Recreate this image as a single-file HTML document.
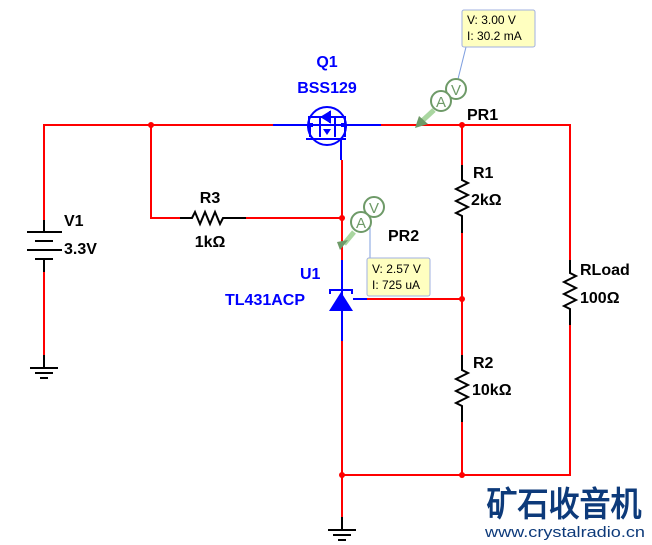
<!DOCTYPE html>
<html><head><meta charset="utf-8"><style>
html,body{margin:0;padding:0;background:#fff;}
svg{display:block;}
text{font-family:"Liberation Sans",Arial,sans-serif;}
.lb{font-weight:bold;font-size:16px;fill:#000;}
.bl{font-weight:bold;font-size:16px;fill:#0000ff;}
</style></head><body>
<svg width="652" height="545" viewBox="0 0 652 545" xmlns="http://www.w3.org/2000/svg">
<g fill="none" stroke-width="2">
<path d="M44 220 V125 H273" stroke="#f00"/>
<path d="M273 125 H381" stroke="#00f"/>
<path d="M381 125 H570 V260" stroke="#f00"/>
<path d="M44 220 V232 M27 232 H62 M35 241 H53 M27 250 H62 M35 259 H53 M44 259 V272" stroke="#000"/>
<path d="M44 272 V355" stroke="#f00"/>
<path d="M44 355 V368 M30 368 H58 M35 373 H53 M40 378 H48" stroke="#000"/>
<path d="M151 125 V218 H180" stroke="#f00"/>
<path d="M180 218 H192 l3 -6 l5 12 l5 -12 l5 12 l5 -12 l5 12 l3 -6 H246" stroke="#000"/>
<path d="M246 218 H342" stroke="#f00"/>
<path d="M341 143 V160" stroke="#00f"/>
<path d="M342 160 V260" stroke="#f00"/>
<path d="M342 260 V341" stroke="#00f"/>
<path d="M342 341 V517" stroke="#f00"/>
<path d="M342 517 V530 M328 530 H356 M333 535 H351 M338 540 H346" stroke="#000"/>
<path d="M353 299 H367" stroke="#00f"/>
<path d="M367 299 H462" stroke="#f00"/>
<path d="M462 125 V165" stroke="#f00"/>
<path d="M462 165 V180 l6 3 l-12 6 l12 6 l-12 6 l12 6 l-12 6 l6 3 V233" stroke="#000"/>
<path d="M462 233 V355" stroke="#f00"/>
<path d="M462 355 V370 l6 3 l-12 6 l12 6 l-12 6 l12 6 l-12 6 l6 3 V422" stroke="#000"/>
<path d="M462 422 V475" stroke="#f00"/>
<path d="M570 260 V273 l6 3 l-12 6 l12 6 l-12 6 l12 6 l-12 6 l6 3 V325" stroke="#000"/>
<path d="M570 325 V475 H342" stroke="#f00"/>
<g stroke="#00f">
<circle cx="327" cy="126" r="19" stroke-width="2"/>
<path d="M309 125 V117 H345 V125 M310 125 V137 M320 117 V137 M335 117 V137 M345 125 V137 M306 139 H346 M341 139 V143"/>
</g>
</g>
<g fill="#00f">
<path d="M322 117 l8 -5 v10 z M330 111 v12" stroke="#00f" stroke-width="2"/>
<path d="M323 129 h8 l-4 6 z"/>
<rect x="309" y="123" width="4" height="4"/><rect x="341" y="123" width="4" height="4"/>
<path d="M341 292 L353 311 L329 311 Z"/>
<path d="M330 294 V290 H352 V294" fill="none" stroke="#00f" stroke-width="2"/>
</g>
<g fill="#f00">
<circle cx="151" cy="125" r="3"/><circle cx="462" cy="125" r="3"/>
<circle cx="342" cy="218" r="3"/><circle cx="462" cy="299" r="3"/>
<circle cx="342" cy="475" r="3"/><circle cx="462" cy="475" r="3"/>
</g>
<line x1="466" y1="47" x2="458" y2="79" stroke="#7f9fdf" stroke-width="1"/>
<line x1="434" y1="110" x2="421" y2="122" stroke="#a9d6a0" stroke-width="5"/>
<path d="M415 128 L428 124 L419 116 Z" fill="#6e9a68"/>
<g fill="#fff" stroke="#6e9a68" stroke-width="2">
<circle cx="456" cy="89" r="10"/><circle cx="441" cy="101" r="10"/>
</g>
<text x="456" y="95" font-size="15" fill="#6e9a68" text-anchor="middle">V</text>
<text x="441" y="107" font-size="15" fill="#6e9a68" text-anchor="middle">A</text>
<rect x="462" y="10" width="73" height="37" rx="2" fill="#ffffc0" stroke="#a0b0e0"/>
<text x="467" y="24" font-size="12" fill="#000">V: 3.00 V</text>
<text x="467" y="40" font-size="12" fill="#000">I: 30.2 mA</text>
<line x1="370" y1="258" x2="370" y2="228" stroke="#7f9fdf" stroke-width="1"/>
<line x1="354" y1="232" x2="344" y2="244" stroke="#a9d6a0" stroke-width="5"/>
<path d="M340 250 L348 240 L337 242 Z" fill="#6e9a68"/>
<g fill="#fff" stroke="#6e9a68" stroke-width="2">
<circle cx="374" cy="207" r="10"/><circle cx="361" cy="222" r="10"/>
</g>
<text x="374" y="213" font-size="15" fill="#6e9a68" text-anchor="middle">V</text>
<text x="361" y="228" font-size="15" fill="#6e9a68" text-anchor="middle">A</text>
<rect x="367" y="258" width="63" height="38" rx="2" fill="#ffffc0" stroke="#a0b0e0"/>
<text x="372" y="273" font-size="12" fill="#000">V: 2.57 V</text>
<text x="372" y="289" font-size="12" fill="#000">I: 725 uA</text>
<text class="bl" x="327" y="67" text-anchor="middle">Q1</text>
<text class="bl" x="327" y="93" text-anchor="middle">BSS129</text>
<text class="lb" x="467" y="120">PR1</text>
<text class="lb" x="473" y="178">R1</text>
<text class="lb" x="471" y="205">2kΩ</text>
<text class="lb" x="210" y="203" text-anchor="middle">R3</text>
<text class="lb" x="210" y="247" text-anchor="middle">1kΩ</text>
<text class="lb" x="64" y="226">V1</text>
<text class="lb" x="64" y="254">3.3V</text>
<text class="lb" x="388" y="241">PR2</text>
<text class="bl" x="300" y="279">U1</text>
<text class="bl" x="225" y="305">TL431ACP</text>
<text class="lb" x="473" y="368">R2</text>
<text class="lb" x="472" y="395">10kΩ</text>
<text class="lb" x="580" y="275">RLoad</text>
<text class="lb" x="580" y="303">100Ω</text>
<text x="564" y="516" font-family="'Noto Sans CJK SC','WenQuanYi Zen Hei',sans-serif" font-size="34" font-weight="bold" fill="#0d3a7a" text-anchor="middle" textLength="155" lengthAdjust="spacingAndGlyphs">矿石收音机</text>
<text x="565" y="537" font-size="15" fill="#0d3a7a" text-anchor="middle" textLength="160" lengthAdjust="spacingAndGlyphs">www.crystalradio.cn</text>
</svg>
</body></html>
